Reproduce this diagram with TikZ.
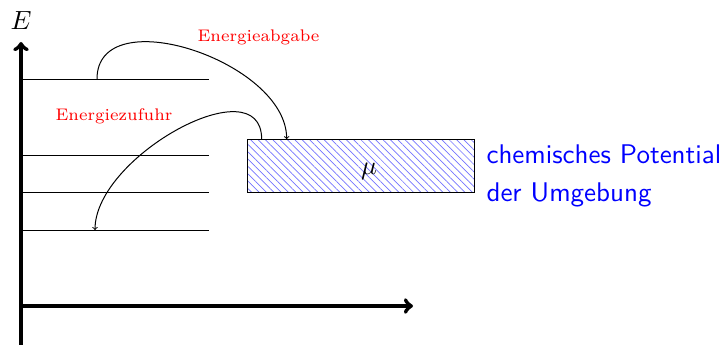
\documentclass[tikz,border=0pt]{standalone}
\usetikzlibrary{patterns.meta,calc}
\begin{document}
\begin{tikzpicture}[x=1pt,y=-1pt,
  txt/.style={scale=2.63,inner sep=0pt},
  redlbl/.style={scale=2.4,inner sep=0pt,text=red,font=\scriptsize},
  level/.style={line width=1pt},
  axis/.style={line width=4.2pt,-{To[scale=0.9]}},
  trans/.style={line width=1pt,-{To[scale=1.6]}}]
\useasboundingbox (0,0) rectangle (725,345);
% axes
\coordinate (ybot) at (21,345);
\coordinate (ytop) at (21,42);
\coordinate (xl) at (19,306);
\coordinate (xr) at (413,306);
\draw[axis] (ybot) -- (ytop);
\draw[axis] (xl) -- (xr);
\node[txt] (E) at (21,20.5) {$E$};
% levels
\foreach \n/\y in {1/79,2/155,3/192.3,4/230}{
  \coordinate (l\n a) at (21,\y);
  \coordinate (l\n b) at (209,\y);
  \draw[level] (l\n a) -- (l\n b);
}
% reservoir
\node[draw,line width=1pt,minimum width=226.5pt,minimum height=52.5pt,inner sep=0pt,
  pattern={Lines[angle=-45,distance=5.2pt,line width=0.7pt]},pattern color=blue!55]
  (res) at (360.75,165.75) {};
\node[txt] (mu) at (369,171) {$\mu$};
\node[scale=2.7,inner sep=0pt,text=blue,font=\sffamily\fontsize{10}{14}\selectfont,align=left,anchor=base west] (chem) at (486,201.7)
  {chemisches Potential\\der Umgebung};
% transitions
\coordinate (s1) at ($(l1a)+(76,0)$);
\coordinate (e1) at ($(res.north west)+(39.5,0)$);
\coordinate (s2) at ($(res.north west)+(14.5,0)$);
\coordinate (e2) at ($(l4a)+(74,0)$);
\draw[trans] (s1) .. controls +(0,-80) and +(0,-78) .. (e1);
\draw[trans] (s2) .. controls +(0,-74) and +(0,-74) .. (e2);
\node[redlbl,anchor=base] (abg) at (258.5,41.7) {Energieabgabe};
\node[redlbl,anchor=base] (zuf) at (114,120.7) {Energiezufuhr};
\end{tikzpicture}
\end{document}
